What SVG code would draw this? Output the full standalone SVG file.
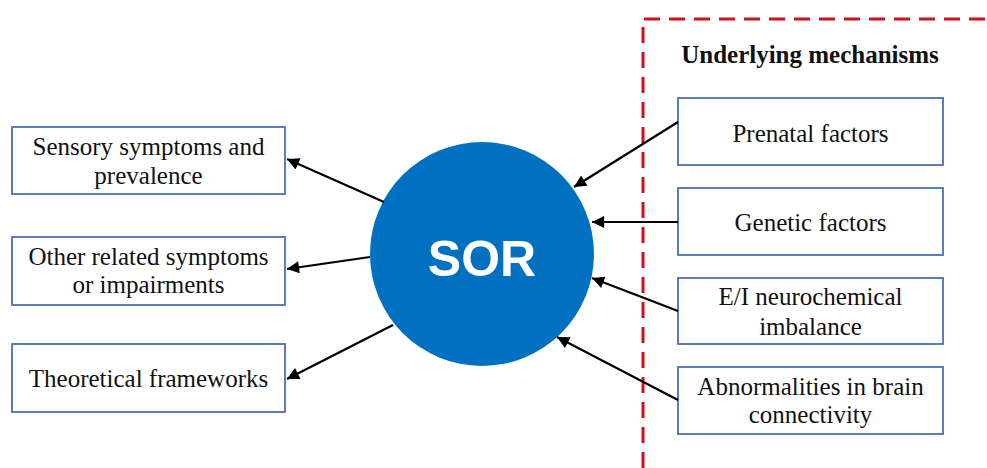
<svg xmlns="http://www.w3.org/2000/svg" width="987" height="468" viewBox="0 0 987 468">
<style>
.box{fill:#fff;stroke:#4a6fb5;stroke-width:1.8}
.t{font-family:"Liberation Serif","Times New Roman",serif;font-size:25px;fill:#111;text-anchor:middle}
.b{font-weight:bold}
.c{stroke:#000;stroke-width:2.2;fill:none;marker-end:url(#ah)}
</style>
<defs>
<marker id="ah" viewBox="0 0 10 10" refX="10" refY="5" markerWidth="6.5" markerHeight="5.5" markerUnits="strokeWidth" orient="auto">
<path d="M0,0 L10,5 L0,10 z" fill="#000"/>
</marker>
</defs>
<rect width="987" height="468" fill="#fff"/>
<g id="frame">
<path d="M643,468 L643,19 L987,19" fill="none" stroke="#d0101a" stroke-width="3" stroke-dasharray="16,9"/>
<text class="t b" x="810" y="63">Underlying mechanisms</text>
</g>
<g id="sor">
<circle cx="482" cy="254" r="112" fill="#0070c0"/>
<text x="482" y="276" font-family="'Liberation Sans',Arial,sans-serif" font-size="50" font-weight="bold" fill="#fff" text-anchor="middle">SOR</text>
</g>
<g id="sensory">
<rect class="box" x="12" y="127" width="273" height="67"/>
<text class="t" x="148.5" y="155">Sensory symptoms and</text>
<text class="t" x="148.5" y="184">prevalence</text>
</g>
<g id="other">
<rect class="box" x="12" y="237" width="273" height="68"/>
<text class="t" x="148.5" y="265">Other related symptoms</text>
<text class="t" x="148.5" y="293">or impairments</text>
</g>
<g id="theory">
<rect class="box" x="12" y="344" width="273" height="68"/>
<text class="t" x="148.5" y="387">Theoretical frameworks</text>
</g>
<g id="prenatal">
<rect class="box" x="678" y="98" width="265" height="67"/>
<text class="t" x="810.5" y="142">Prenatal factors</text>
</g>
<g id="genetic">
<rect class="box" x="678" y="188" width="265" height="67"/>
<text class="t" x="810.5" y="231">Genetic factors</text>
</g>
<g id="ei">
<rect class="box" x="678" y="278" width="265" height="66"/>
<text class="t" x="810.5" y="305">E/I neurochemical</text>
<text class="t" x="810.5" y="335">imbalance</text>
</g>
<g id="brain">
<rect class="box" x="678" y="367" width="265" height="67"/>
<text class="t" x="810.5" y="395">Abnormalities in brain</text>
<text class="t" x="810.5" y="423">connectivity</text>
</g>
<g id="connectors">
<line class="c" x1="384" y1="202" x2="287" y2="159"/>
<line class="c" x1="370" y1="257" x2="287" y2="269"/>
<line class="c" x1="393" y1="325" x2="287" y2="379"/>
<line class="c" x1="678" y1="122" x2="574" y2="187"/>
<line class="c" x1="678" y1="222" x2="592" y2="222"/>
<line class="c" x1="678" y1="311" x2="592" y2="278"/>
<line class="c" x1="678" y1="400" x2="557" y2="337"/>
</g>
</svg>
